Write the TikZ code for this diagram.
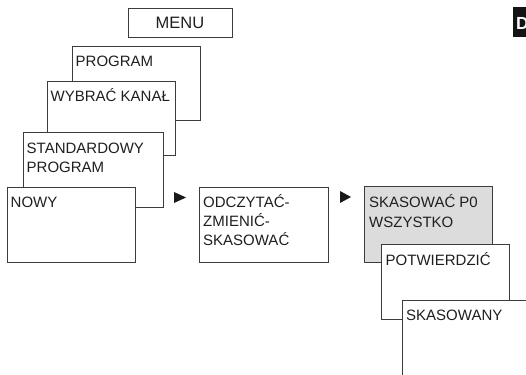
\documentclass[tikz,border=0pt]{standalone}
\usepackage{fontspec}
\setmainfont{Liberation Sans}
\definecolor{framegray}{HTML}{3C3C3C}
\definecolor{shade}{HTML}{DCDCDC}
\begin{document}
\begin{tikzpicture}[x=1pt,y=-1pt,
  box/.style={draw=framegray, line width=0.9pt, fill=white, anchor=north west,
    inner sep=0pt, outer sep=0pt, minimum width=#1},
  box/.default=128pt,
  lbl/.style={anchor=base west, inner sep=0pt, align=left, text=black!88,
    font=\fontsize{15}{19.5}\selectfont},
  marker/.style={fill=black!90}]
\clip (0,0) rectangle (526,374);

% menu title
\node[draw=framegray, line width=0.9pt, minimum width=104pt, minimum height=29pt,
  inner sep=0pt, font=\fontsize{16.5}{18}\selectfont, text=black!88]
  (menu) at (180,22.5) {MENU};

% language tab
\fill[black!92] (513,7) rectangle (540,37);
\node[anchor=base west, inner sep=0pt, text=white,
  font=\bfseries\fontsize{17.5}{18}\selectfont] (lang) at (516,29.5) {D};

% cascade of menu levels (label anchors sit on the last line's baseline)
\node[box, minimum height=74pt] (prog) at (72,46) {};
\node[lbl] (progt) at ([shift={(3.5,21)}]prog.north west) {PROGRAM};

\node[box, minimum height=74pt] (kanal) at (47,81) {};
\node[lbl] (kanalt) at ([shift={(3.5,20.5)}]kanal.north west) {WYBRAĆ KANAŁ};

\node[box=140pt, minimum height=75pt] (std) at (23,132) {};
\node[lbl] (stdt) at ([shift={(3.5,40.8)}]std.north west) {STANDARDOWY\\PROGRAM};

\node[box, minimum height=75pt] (nowy) at (7,187) {};
\node[lbl] (nowyt) at ([shift={(3.5,20.3)}]nowy.north west) {NOWY};

% second column
\node[box=129pt, minimum height=75pt] (odcz) at (199,187) {};
\node[lbl, font=\fontsize{15}{19}\selectfont] (odczt) at ([shift={(4,58.3)}]odcz.north west)
  {ODCZYTAĆ-\\ZMIENIĆ-\\SKASOWAĆ};

% third column
\node[box, fill=shade, minimum height=76pt] (kas) at (364,186) {};
\node[lbl] (kast) at ([shift={(5,41)}]kas.north west) {SKASOWAĆ P0\\WSZYSTKO};

\node[box, minimum height=75pt] (potw) at (381,244) {};
\node[lbl] (potwt) at ([shift={(4.5,21)}]potw.north west) {POTWIERDZIĆ};

\node[box=140pt, minimum height=90pt] (done) at (402,300) {};
\node[lbl] (donet) at ([shift={(4,20.7)}]done.north west) {SKASOWANY};

% step markers
\fill[marker] (174,192) -- (186,197.5) -- (174,203) -- cycle;
\fill[marker] (340,191) -- (351,197) -- (340,203) -- cycle;
\end{tikzpicture}
\end{document}
